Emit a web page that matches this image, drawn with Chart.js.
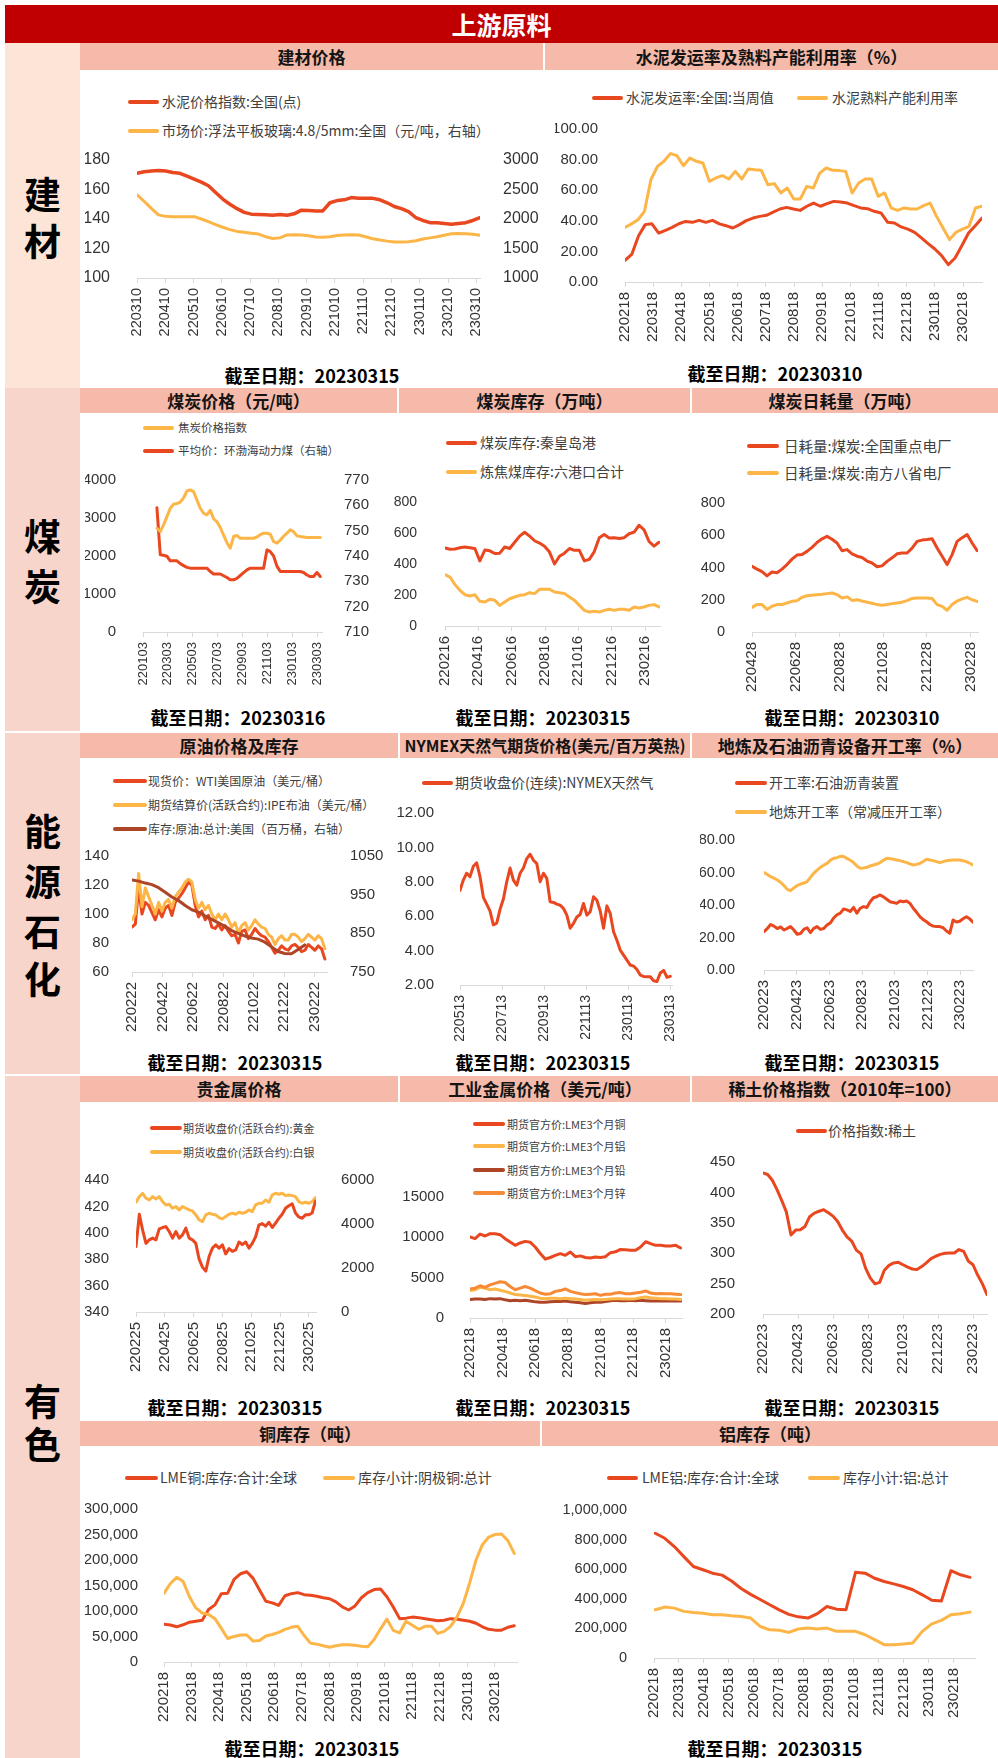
<!DOCTYPE html>
<html>
<head>
<meta charset="utf-8">
<script src="https://cdn.jsdelivr.net/npm/chart.js@4.4.1/dist/chart.umd.min.js"></script>
<style>
  body { margin: 0; background: #fff; }
  #page { position: relative; width: 998px; height: 1758px; overflow: hidden; background: #fff;
          font-family: "Noto Sans CJK SC", "Noto Sans", sans-serif; }
  #page div { position: absolute; }
  #page canvas { position: absolute; }
  .hdr { background: #F5BAA9; font-weight: bold; color: #141414; text-align: center; font-size: 17px; white-space: nowrap; }
  .side { left: 5px; width: 75px; }
  .sl { width: 75px; left: 5px; text-align: center; font-size: 37px; font-weight: bold; line-height: 40px; color: #000; }
  .foot { width: 300px; text-align: center; font-size: 18px; font-weight: bold; line-height: 24px; color: #000; white-space: nowrap; }
  .lg { color: #404040; white-space: nowrap; }
</style>
</head>
<body>
<div id="page"></div>
<script>
// ---- data ----
// 建材价格
const ticksBuild = ['220310','220410','220510','220610','220710','220810','220910','221010','221110','221210','230110','230210','230310'];
const cementIdx = [171,172,172.5,172.8,172.5,171.5,171,169,167,165,162.5,158,153.5,150,147,144.5,143.3,143,142.8,142.5,143,142.5,143.5,146,145.8,145.5,145.5,151,152.5,153,154.5,154,154,154,153,151,148.5,147,145,141,139,137.5,137.5,137,136.5,137,137.5,139,141];
const glassPrice = [2410,2300,2180,2070,2045,2040,2040,2040,2040,2000,1955,1905,1860,1820,1790,1775,1760,1745,1700,1670,1680,1730,1735,1730,1715,1695,1690,1700,1720,1730,1735,1730,1700,1665,1645,1625,1610,1610,1615,1630,1660,1680,1700,1725,1750,1755,1750,1740,1725];

// 水泥发运率及熟料产能利用率
const ticksCement = ['220218','220318','220418','220518','220618','220718','220818','220918','221018','221118','221218','230118','230218'];
const shipRate = [14.2,18,30,37.5,38,32,33.8,35.7,38.1,39.6,39,40.3,39,40.3,38,36.8,35.3,37.5,40.1,41.8,42.9,43.6,45.6,47.7,48.8,47.7,46.8,49.5,51.6,49.5,51.2,52.7,52.3,51.6,49.9,48.4,47.9,46.2,45.1,39,38.6,36,34.6,32.5,28.8,25.1,21.6,17.2,11.3,15.7,23.7,32,36.8,41.8];
const clinkerRate = [35.7,38,40.7,46.2,67,75.6,78.9,83.9,82.6,76,81,78.9,77.8,65.8,68,69.5,67.3,72.3,67.3,73.9,73.4,73,63.6,64.3,58.2,61.4,54.2,54.2,62.5,61.4,71.2,74.5,73,72.8,72.3,58.2,64.7,67.3,67.3,56,58.2,48.4,46.8,48.4,47.7,47.7,49.9,51.6,42.9,35.3,27.7,32.5,34.6,36.4,48.4,49.5];

// 煤炭价格
const ticksCoalPrice = ['220103','220303','220503','220703','220903','221103','230103','230303'];
const cokeIdx = [2731,2643,2818,3037,3256,3361,3380,3420,3530,3711,3740,3694,3475,3256,3125,3081,3200,2980,2900,2750,2550,2350,2205,2512,2538,2468,2468,2468,2468,2468,2500,2560,2600,2600,2573,2381,2337,2420,2520,2600,2687,2643,2530,2512,2500,2486,2486,2486,2486,2486];
const thermalCoal = [759,740.5,740.3,739.9,738.1,738.1,738.1,737,736.2,735.5,735.2,735.2,735.2,735.2,735.2,735.2,733.9,732.9,732.9,732.9,732.2,731.5,730.6,730.6,731.2,732.3,733.4,734.5,735.2,735.2,735.2,735.2,735.2,742.4,741.7,740,736,733.9,733.9,733.9,733.9,733.9,733.9,733.9,733.5,732.5,731.9,731.9,733.5,731.9];

// 煤炭库存
const ticksCoalStock = ['220216','220416','220616','220816','221016','221216','230216'];
const qhdStock = [503,495,497,505,510,505,500,420,490,485,468,470,510,500,540,580,605,580,550,535,515,477,400,450,470,500,488,488,420,430,480,570,590,568,570,565,570,595,606,650,620,545,515,540];
const cokingStock = [331,316,267,230,202,194,202,159,155,172,166,133,155,176,187,198,202,215,209,237,237,237,219,215,209,187,166,133,101,90,95,90,101,108,101,108,108,101,123,116,123,133,138,123];

// 煤炭日耗量
const ticksCoalUse = ['220428','220628','220828','221028','221228','230228'];
const useKeyPlants = [407,390,375,348,372,368,390,418,452,477,480,500,525,555,578,593,575,552,504,511,485,470,462,440,428,405,410,438,460,485,490,490,520,562,570,573,578,521,470,418,480,562,585,604,552,505];
const useSouth8 = [153,170,170,140,160,170,170,180,190,194,215,225,228,231,234,238,242,232,211,218,196,200,192,185,178,170,166,170,176,180,185,195,208,211,211,211,208,170,159,135,170,192,205,215,200,190];

// 原油价格及库存
const ticksCrude = ['220222','220422','220622','220822','221022','221222','230222'];
const wtiSpot = [91,93,118,100,108,106,101,96,103,98,104,106,99,108,111,114,118,122,120,106,98,102,96,99,91,90,93,89,92,88,85,86,80,88,89,83,86,90,87,85,84,81,77,73,75,78,76,75,78,79,77,74,75,79,77,75,78,76,69];
const brentFut = [96,100,128,105,118,112,106,100,108,102,108,110,104,112,115,118,122,124,122,110,104,108,103,106,100,96,100,96,100,96,91,94,87,92,94,89,92,96,93,91,90,86,84,79,83,85,82,82,86,86,84,81,83,86,84,82,85,83,76];
const crudeStockUS = [988,985,980,976,968,956,944,935,922,911,905,895,886,877,868,857,850,843,838,835,827,815,803,798,797,808,820];

// NYMEX天然气
const ticksGas = ['220513','220713','220913','221113','230113','230313'];
const natGas = [7.5,8.1,8.5,8.3,8.9,9.1,8.3,7.1,6.7,6.3,5.5,5.6,6.4,7.0,8.0,8.8,8.1,7.8,8.5,8.8,9.35,9.6,9.25,9.06,8.0,8.5,8.2,6.84,6.8,6.7,6.64,6.45,6.06,5.3,5.58,5.95,6.1,6.74,6.06,6.26,7.13,6.93,6.3,5.3,6.6,6.16,5.1,4.6,4.03,3.74,3.45,3.16,3.1,2.9,2.58,2.5,2.48,2.48,2.25,2.2,2.7,2.85,2.45,2.5];

// 地炼及石油沥青开工率
const ticksRefine = ['220223','220423','220623','220823','221023','221223','230223'];
const asphaltRate = [23.6,25.5,28,27,25.5,26.5,24.6,25.6,26.7,24.6,22,22.5,25,26,23,25.6,26.7,25,25.5,27.7,29,32,34,35,37.5,37,36,38.5,35,38,39,38.5,42,44.5,45.1,46.2,45,43.5,42,41.5,41,42.5,42,42.5,41,38,35.5,32.8,31,29.7,28,27,26.7,26.7,26,24,22.6,30.8,29.5,30,31.5,32.8,31.5,29.5];
const refineryRate = [59.9,58.8,57.4,56.5,55.4,54,52,49.6,48.8,50.5,52,52.9,53.5,54.4,57,59.5,61.5,63.2,64.5,65.6,67.5,68.8,69.1,70,69.8,68.7,67.5,66.1,64,62.6,62.8,63.2,64,64.6,65.2,66.1,67.5,68.7,68.5,68.1,67.7,67.3,66.7,66.1,65.3,64.6,65,65.6,66.8,68.1,67.7,67.3,66.7,66.1,66.7,67.3,67.5,67.7,67.7,67.7,67.2,66.7,65.7,64.6];

// 贵金属价格
const ticksPrecious = ['220225','220425','220625','220825','221025','221225','230225'];
const goldFut = [389.6,414,402,392,394.7,396,394.7,403,404,404.7,401,396,401,396,398.4,403.5,396,394.7,392,380,374,371,382,388.4,390.9,388.4,390.9,384,388,386,387,393,391,393,388.4,392,397,406,407,405,408,404,407.3,411,414,418.6,420.5,422,415,412,411,413.6,413.6,415,424];
const silverFut = [4987,5244,5395,5169,5093,5244,5139,5244,5018,4866,4897,4715,4791,4640,4791,4715,4640,4594,4413,4186,4111,4413,4489,4443,4413,4292,4232,4338,4443,4489,4443,4534,4489,4534,4640,4564,4866,4942,4942,5093,4987,5320,5395,5350,5395,5289,5320,5289,5244,5018,4942,4987,4942,5018,5199];

// 工业金属价格
const ticksBase = ['220218','220418','220618','220818','221018','221218','230218'];
const lmeCopper = [10041,9835,10400,10165,10455,10455,10331,9835,9421,9008,9300,9500,9400,8800,8000,7300,7500,7768,7975,7768,8181,7600,7700,7500,7438,7562,7500,7600,8100,8200,8500,8450,8388,8400,8800,9450,9214,9008,9008,8925,8925,9008,8677];
const lmeAluminum = [3400,3500,3800,3700,3500,3600,3450,3300,3100,2900,2850,2800,2700,2600,2450,2400,2450,2450,2400,2450,2400,2350,2300,2200,2250,2300,2250,2300,2350,2400,2400,2350,2350,2400,2500,2600,2500,2450,2400,2400,2350,2350,2300];
const lmeLead = [2300,2350,2350,2300,2400,2350,2400,2250,2150,2200,2150,2200,2100,2000,1950,1950,2000,2050,2050,2100,2000,1950,1900,1800,1900,1950,1950,2050,2150,2200,2150,2150,2200,2150,2200,2150,2100,2100,2100,2100,2100,2100,2100];
const lmeZinc = [3600,3700,4000,3800,4100,4300,4500,4400,3900,3500,3700,3900,3700,3400,3100,2950,3000,3300,3400,3600,3300,3150,3000,2900,2950,3000,2800,2950,2950,3100,3150,3000,3000,3100,3200,3350,3100,3000,3050,3000,3000,2950,2900];

// 稀土价格指数
const ticksRare = ['220223','220423','220623','220823','221023','221223','230223'];
const rareEarthIdx = [432,429.5,420,404.5,387,368,330,338,338.7,344,360,366,369,371.6,366.5,361,352,338,327,320,305,299,275,259,249.5,252,272,280,284,285,281,277,274,273,278,284,291,295,298,300,300.3,300.3,306,303,287,281,264,250,232];

// 铜库存 / 铝库存
const ticksStock = ['220218','220318','220418','220518','220618','220718','220818','220918','221018','221118','221218','230118','230218'];
const lmeCuStock = [74000,72500,69000,73000,78000,80000,82000,103000,112000,134000,135000,162000,173000,177000,164000,141000,119000,116000,111000,130000,134000,136000,132000,131000,129000,126000,124000,118000,108000,102000,110000,126000,136000,142000,143000,128000,108000,85000,86000,88000,87000,85000,83000,81000,82000,85000,84000,82000,80000,76000,69000,64000,62500,62500,68000,71000];
const cathodeCuStock = [134500,154000,166000,158000,128000,106000,96000,93000,85000,66000,46000,50000,53000,53000,41000,42000,51000,54000,58000,64000,68000,70000,52000,37000,35000,32000,29000,32000,34000,34000,33000,31000,30000,44000,65000,84000,62000,57000,80000,72000,64000,70000,70000,56000,60000,70000,88000,115000,155000,200000,230000,245000,250000,251000,238000,213000];
const lmeAlStock = [843000,809000,753000,685000,618000,596000,573000,560000,520000,470000,430000,395000,360000,325000,295000,278000,270000,300000,348000,330000,326000,580000,573000,539000,517000,501000,483000,461000,427000,390000,385000,590000,562000,545000];
const alTotalStock = [326000,344000,337000,315000,308000,303000,292000,292000,285000,281000,270000,213000,191000,187000,173000,196000,202000,196000,202000,180000,180000,180000,157000,124000,90000,90000,94000,101000,180000,231000,254000,292000,299000,310000];

// ---- layout ----
const RED = '#E9471F', YEL = '#FCB547', BRN = '#AD4526', ORG = '#F68A36';
const page = document.getElementById('page');
const px = v => v + 'px';
function el(cls, css, text) {
  const d = document.createElement('div');
  if (cls) d.className = cls;
  Object.assign(d.style, css);
  if (text != null) d.textContent = text;
  page.appendChild(d);
  return d;
}

// top bar
el('', {left: '5px', top: '5px', width: '993px', height: '38px', background: '#C00000', color: '#fff',
  fontWeight: 'bold', fontSize: '25px', lineHeight: '38px', textAlign: 'center'}, '上游原料');

// side column
[[43, 345, '#FCE4D6'], [388, 343, '#F8D5CA'], [733, 341, '#F8D5CA'], [1076, 682, '#F8D5CA']].forEach(([t, h, c]) => {
  el('side', {top: px(t), height: px(h), background: c});
});
[['建', 193], ['材', 240], ['煤', 535], ['炭', 585], ['能', 830], ['源', 880], ['石', 930], ['化', 978], ['有', 1400], ['色', 1443]]
  .forEach(([t, y]) => el('sl', {top: px(y - 20)}, t));

// panel headers
[[80, 43, 463, 27, '建材价格'], [545, 43, 453, 27, '水泥发运率及熟料产能利用率（%）'],
 [80, 388, 317, 25, '煤炭价格（元/吨）'], [399, 388, 291, 25, '煤炭库存（万吨）'], [692, 388, 306, 25, '煤炭日耗量（万吨）'],
 [80, 733, 318, 25, '原油价格及库存'], [400, 733, 290, 25, 'NYMEX天然气期货价格(美元/百万英热)'], [692, 733, 306, 25, '地炼及石油沥青设备开工率（%）'],
 [80, 1076, 318, 26, '贵金属价格'], [400, 1076, 290, 26, '工业金属价格（美元/吨）'], [692, 1076, 306, 26, '稀土价格指数（2010年=100）'],
 [80, 1421, 460, 25, '铜库存（吨）'], [542, 1421, 456, 25, '铝库存（吨）']
].forEach(([l, t, w, h, txt]) => {
  const d = el('hdr', {left: px(l), top: px(t), width: px(w), height: px(h), lineHeight: px(h)}, txt);
  if (txt.startsWith('NYMEX')) d.style.fontSize = '16px';
});

// footers
[[312, 375, '20230315'], [775, 373, '20230310'],
 [238, 717, '20230316'], [543, 717, '20230315'], [852, 717, '20230310'],
 [235, 1062, '20230315'], [543, 1062, '20230315'], [852, 1062, '20230315'],
 [235, 1407, '20230315'], [543, 1407, '20230315'], [852, 1407, '20230315'],
 [312, 1748, '20230315'], [775, 1748, '20230315']
].forEach(([cx, y, d]) => el('foot', {left: px(cx - 150), top: px(y - 12)}, '截至日期：' + d));

// legends: [lineStart, lineEnd, y, textX, color, text, fontSize]
function legend(items) {
  items.forEach(([x1, x2, y, tx, c, t, s]) => {
    el('', {left: px(x1), top: px(y - 2), width: px(x2 - x1), height: '4px', background: c, borderRadius: '2px'});
    el('lg', {left: px(tx), top: px(y - s * 0.68), fontSize: px(s), lineHeight: px(s * 1.36)}, t);
  });
}
legend([
  [128, 159, 102, 162, RED, '水泥价格指数:全国(点)', 14],
  [128, 159, 131, 162, YEL, '市场价:浮法平板玻璃:4.8/5mm:全国（元/吨，右轴）', 14],
  [592, 623, 98, 626, RED, '水泥发运率:全国:当周值', 14],
  [797, 828, 98, 832, YEL, '水泥熟料产能利用率', 14],
  [143, 174, 428, 178, YEL, '焦炭价格指数', 11.5],
  [143, 174, 451, 178, RED, '平均价：环渤海动力煤（右轴）', 11.5],
  [446, 477, 443, 480, RED, '煤炭库存:秦皇岛港', 14],
  [446, 477, 472, 480, YEL, '炼焦煤库存:六港口合计', 14],
  [747, 779, 446, 784, RED, '日耗量:煤炭:全国重点电厂', 14.5],
  [747, 779, 473, 784, YEL, '日耗量:煤炭:南方八省电厂', 14.5],
  [113, 147, 781, 148, RED, '现货价：WTI美国原油（美元/桶）', 12],
  [113, 147, 805, 148, YEL, '期货结算价(活跃合约):IPE布油（美元/桶）', 12],
  [113, 147, 829, 148, BRN, '库存:原油:总计:美国（百万桶，右轴）', 12],
  [422, 453, 783, 455, RED, '期货收盘价(连续):NYMEX天然气', 14],
  [735, 767, 783, 769, RED, '开工率:石油沥青装置', 14],
  [735, 767, 812, 769, YEL, '地炼开工率（常减压开工率）', 14],
  [150, 182, 1128, 183, RED, '期货收盘价(活跃合约):黄金', 11],
  [150, 182, 1152, 183, YEL, '期货收盘价(活跃合约):白银', 11],
  [473, 505, 1124, 507, RED, '期货官方价:LME3个月铜', 11],
  [473, 505, 1146, 507, YEL, '期货官方价:LME3个月铝', 11],
  [473, 505, 1170, 507, BRN, '期货官方价:LME3个月铅', 11],
  [473, 505, 1193, 507, ORG, '期货官方价:LME3个月锌', 11],
  [796, 827, 1131, 828, RED, '价格指数:稀土', 14],
  [125, 158, 1478, 160, RED, 'LME铜:库存:合计:全球', 14],
  [323, 355, 1478, 358, YEL, '库存小计:阴极铜:总计', 14],
  [607, 638, 1478, 642, RED, 'LME铝:库存:合计:全球', 14],
  [808, 840, 1478, 843, YEL, '库存小计:铝:总计', 14]
]);

// ---- charts ----
Chart.defaults.font.family = '"Liberation Sans", Arial, sans-serif';

function pts(vals, a, b) {
  const n = vals.length;
  return vals.map((v, i) => ({x: a + (b - a) * i / (n - 1), y: v}));
}
const fix2 = v => v.toFixed(2);
const comma = v => v.toLocaleString('en-US');

// g = [boxL, boxT, boxR, boxB, plotL, plotT, plotR, plotB]
function draw(g, xTicks, xMax, yL, yR, sets, xFont) {
  const [bl, bt, br, bb, pl, pt, pr, pb] = g;
  const cv = document.createElement('canvas');
  cv.width = br - bl; cv.height = bb - bt;
  cv.style.left = px(bl); cv.style.top = px(bt);
  page.appendChild(cv);
  const yAxis = (c, pos, w) => ({
    type: 'linear', position: pos, min: c.min, max: c.max,
    ticks: {stepSize: c.step, padding: c.pad, color: '#333', font: {size: c.fs || 15}, callback: c.fmt || (v => v)},
    grid: {display: false}, border: {display: false},
    afterFit: s => { s.width = w; s.paddingTop = 0; s.paddingBottom = 0; }
  });
  const scales = {
    x: {
      type: 'linear', min: 0, max: xMax,
      afterBuildTicks: s => { s.ticks = xTicks.map((_, i) => ({value: i})); },
      afterFit: s => { s.height = bb - pb; s.paddingLeft = 0; s.paddingRight = 0; },
      ticks: {autoSkip: false, minRotation: 90, maxRotation: 90, padding: 5, color: '#333',
              font: {size: xFont || 15}, callback: v => xTicks[v]},
      grid: {drawOnChartArea: false, drawTicks: true, tickLength: 5, color: '#d9d9d9'},
      border: {display: true, color: '#d9d9d9'}
    },
    y: yAxis(yL, 'left', pl - bl)
  };
  if (yR) scales.y2 = yAxis(yR, 'right', br - pr);
  new Chart(cv, {
    type: 'line',
    data: {datasets: sets.map(s => ({
      data: pts(s.v, s.a, s.b), borderColor: s.c, borderWidth: s.w || 3, pointRadius: 0,
      tension: 0, fill: false, yAxisID: s.r ? 'y2' : 'y', borderJoinStyle: 'round', borderCapStyle: 'round'
    }))},
    options: {
      responsive: false, animation: false, devicePixelRatio: 1,
      layout: {padding: {top: pt - bt, right: yR ? 0 : br - pr, left: 0, bottom: 0}},
      plugins: {legend: {display: false}, tooltip: {enabled: false}},
      scales
    }
  });
}

// 建材价格
draw([85, 145, 540, 345, 137, 160, 480, 278], ticksBuild, 12.13,
  {min: 100, max: 180, step: 20, pad: 19, fs: 16}, {min: 1000, max: 3000, step: 500, pad: 15, fs: 16},
  [{v: cementIdx, a: 0, b: 12.13, c: RED, w: 3.5}, {v: glassPrice, a: 0, b: 12.13, c: YEL, r: true}], 14.5);

// 水泥发运率
draw([555, 115, 995, 345, 625, 129, 982, 282], ticksCement, 12.67,
  {min: 0, max: 100, step: 20, pad: 19, fmt: fix2}, null,
  [{v: shipRate, a: 0, b: 12.67, c: RED}, {v: clinkerRate, a: 0, b: 12.67, c: YEL}]);

// 煤炭价格
draw([85, 465, 372, 692, 143, 480, 322, 632], ticksCoalPrice, 7.2,
  {min: 0, max: 4000, step: 1000, pad: 19}, {min: 710, max: 770, step: 10, pad: 14},
  [{v: cokeIdx, a: 0.56, b: 7.13, c: YEL}, {v: thermalCoal, a: 0.56, b: 7.13, c: RED, r: true}], 13);

// 煤炭库存
draw([390, 490, 680, 692, 445, 502, 660, 626], ticksCoalStock, 6.45,
  {min: 0, max: 800, step: 200, pad: 20, fs: 14}, null,
  [{v: qhdStock, a: 0, b: 6.42, c: RED}, {v: cokingStock, a: 0, b: 6.42, c: YEL}]);

// 煤炭日耗量
draw([700, 490, 992, 695, 752, 503, 978, 632], ticksCoalUse, 5.17,
  {min: 0, max: 800, step: 200, pad: 19, fs: 14.5}, null,
  [{v: useKeyPlants, a: 0, b: 5.15, c: RED}, {v: useSouth8, a: 0, b: 5.15, c: YEL}]);

// 原油价格及库存
draw([85, 840, 385, 1040, 132, 856, 327, 972], ticksCrude, 6.4,
  {min: 60, max: 140, step: 20, pad: 15}, {min: 750, max: 1050, step: 100, pad: 15},
  [{v: crudeStockUS, a: 0, b: 5.67, c: BRN, r: true}, {v: brentFut, a: 0, b: 6.33, c: YEL},
   {v: wtiSpot, a: 0, b: 6.33, c: RED}]);

// NYMEX天然气
draw([390, 800, 688, 1045, 460, 813, 672, 985], ticksGas, 5.04,
  {min: 2, max: 12, step: 2, pad: 18, fmt: fix2}, null,
  [{v: natGas, a: 0, b: 5.0, c: RED}], 14);

// 地炼及石油沥青
draw([700, 825, 990, 1045, 764, 840, 973, 970], ticksRefine, 6.39,
  {min: 0, max: 80, step: 20, pad: 21, fs: 14.5, fmt: fix2}, null,
  [{v: asphaltRate, a: 0, b: 6.39, c: RED}, {v: refineryRate, a: 0, b: 6.39, c: YEL}]);

// 贵金属价格
draw([85, 1165, 385, 1380, 136, 1180, 316, 1312], ticksPrecious, 6.25,
  {min: 340, max: 440, step: 20, pad: 19}, {min: 0, max: 6000, step: 2000, pad: 17},
  [{v: goldFut, a: 0, b: 6.23, c: RED}, {v: silverFut, a: 0, b: 6.23, c: YEL, r: true}]);

// 工业金属价格
draw([395, 1180, 692, 1385, 470, 1197, 682, 1318], ticksBase, 6.5,
  {min: 0, max: 15000, step: 5000, pad: 18}, null,
  [{v: lmeCopper, a: 0, b: 6.46, c: RED}, {v: lmeZinc, a: 0, b: 6.46, c: ORG},
   {v: lmeAluminum, a: 0, b: 6.46, c: YEL}, {v: lmeLead, a: 0, b: 6.46, c: BRN}]);

// 稀土价格指数
draw([700, 1150, 995, 1385, 763, 1162, 987, 1314], ticksRare, 6.4,
  {min: 200, max: 450, step: 50, pad: 20}, null,
  [{v: rareEarthIdx, a: 0, b: 6.4, c: RED}]);

// 铜库存
draw([85, 1495, 530, 1730, 164, 1509, 517, 1662], ticksStock, 12.8,
  {min: 0, max: 300000, step: 50000, pad: 18, fmt: comma}, null,
  [{v: cathodeCuStock, a: 0, b: 12.7, c: YEL}, {v: lmeCuStock, a: 0, b: 12.7, c: RED}]);

// 铝库存
draw([560, 1495, 992, 1730, 654, 1510, 975, 1658], ticksStock, 12.85,
  {min: 0, max: 1000000, step: 200000, pad: 19, fs: 14.5, fmt: comma}, null,
  [{v: lmeAlStock, a: 0.05, b: 12.65, c: RED}, {v: alTotalStock, a: 0.05, b: 12.65, c: YEL}]);
</script>
</body>
</html>
